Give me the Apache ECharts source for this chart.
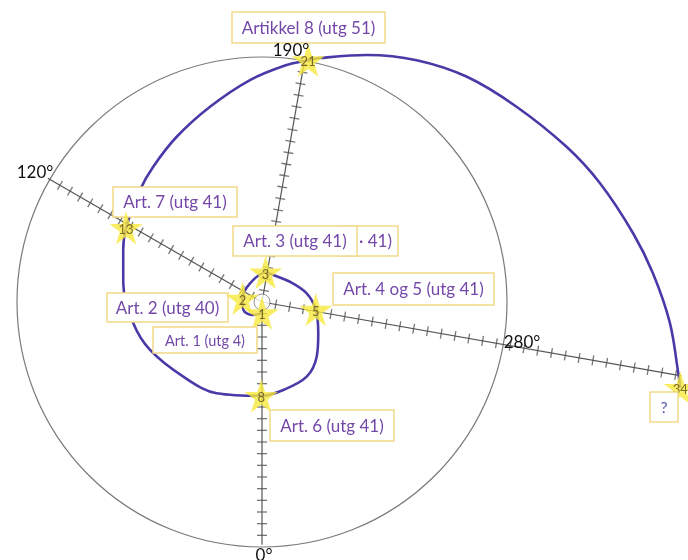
<!DOCTYPE html>
<html>
<head>
<meta charset="utf-8">
<script src="https://cdn.jsdelivr.net/npm/echarts@6/dist/echarts.min.js"></script>
<style>html,body{margin:0;padding:0;background:#fff;}#c{width:688px;height:560px;}</style>
</head>
<body>
<div id="c"></div>
<script>
// Fibonacci stars (labels) and their positions (radius units, angle in degrees clockwise from bottom)
const starLabels = ['1', '2', '3', '5', '8', '13', '21', '34'];
const starRadius = [0.95, 1.7, 2.55, 4.65, 8.05, 13.27, 21.1, 36.6];
const starAngle  = [0, 100, 187, 278, 0.5, 118.6, 190.8, 281.6];

// Hand-drawn spiral
const spiralRadius = [0.97, 1.34, 1.74, 1.7, 1.9, 2.55, 2.51, 2.96, 3.9, 4.65, 5.52, 6.63, 7.46, 7.76, 8.05,
  8.74, 9.3, 10.44, 11.18, 12.0, 12.7, 13.27, 14.2, 14.88, 15.94, 17.32, 19.05, 20.42, 21.1,
  21.5, 23.0, 24.6, 26.1, 27.5, 29.3, 30.7, 32.35, 33.6, 35.0, 36.2, 36.6];
const spiralAngle = [1.5, 33.8, 66.8, 100, 147.3, 187, 202.7, 234.1, 259, 278, 299.1, 315, 329.1, 346.4, 360.5,
  386.4, 406.5, 426.8, 440.6, 457.7, 470.5, 478.6, 492.6, 501.2, 512.7, 525.1, 536.9, 545.9, 550.8,
  553.4, 563.0, 572.6, 582.3, 592.5, 603.0, 610.6, 619.5, 625.8, 632.9, 639.7, 641.6];

// Radial axes
const axisAngles = [0, 120, 190, 280];
const axisLabels = ['0°', '120°', '190°', '280°'];
const axisLength = [20.8, 21.2, 20.9, 36.5];
const axisTickStep = [1, 1, 1, 1.2];
const circleRadius = 21;
const outerRadius = 37;

// Annotation texts
const notes = ['Artikkel 8 (utg 51)', 'Art. 7 (utg 41)', '· 41)', 'Art. 3 (utg 41)', 'Art. 4 og 5 (utg 41)',
  'Art. 2 (utg 40)', 'Art. 1 (utg 4)', 'Art. 6 (utg 41)', '?'];

// ---- layout / style (not data) ----
const noteBoxes = [
  [232, 12, 153, 31, 17],
  [113, 187, 124, 30, 17],
  [340, 226, 58, 30, 17],
  [233, 226, 124, 30, 17],
  [333, 273, 161, 32, 17],
  [107, 293, 121, 29, 17],
  [153, 327, 104, 26, 14.5],
  [270, 410, 124, 31, 17],
  [650, 392, 28, 30, 16]
];
const noteAlign = ['center', 'center', 'right', 'center', 'center', 'center', 'center', 'center', 'center'];
const axisLabelPos = [[264, 556], [35, 173], [291, 51], [522, 343]];
const CENTER = [262, 302];
const PX_PER_UNIT = 245 / 21;

const STAR = 'path://M50,0 L61.2,34.5 L97.6,34.5 L68.2,55.9 L79.4,90.5 L50,69.1 L20.6,90.5 L31.8,55.9 L2.4,34.5 L38.8,34.5 Z';

const series = [];
axisAngles.forEach((a, i) => {
  series.push({
    type: 'line', coordinateSystem: 'polar', polarIndex: 1, silent: true,
    symbol: 'none', z: 2,
    lineStyle: { color: '#555', width: 1.2 },
    data: [[0, a], [axisLength[i], a]]
  });
  const ticks = [];
  for (let r = axisTickStep[i]; r < axisLength[i] - 0.3; r += axisTickStep[i]) {
    ticks.push({ value: [r, a], symbolRotate: -a });
  }
  series.push({
    type: 'scatter', coordinateSystem: 'polar', polarIndex: 1, silent: true,
    symbol: 'rect', symbolSize: [10, 1.3], z: 2,
    itemStyle: { color: '#555' },
    data: ticks
  });
});

series.push({
  type: 'scatter', coordinateSystem: 'polar', polarIndex: 1, silent: true,
  symbol: 'circle', symbolSize: 16, z: 3,
  itemStyle: { color: '#fff', borderColor: '#777', borderWidth: 1 },
  data: [[0, 0]]
});

series.push({
  type: 'line', coordinateSystem: 'polar', polarIndex: 1, silent: true,
  symbol: 'none', smooth: 0.35, z: 4,
  lineStyle: { color: '#4a3aa8', width: 2.6 },
  data: spiralRadius.map((r, i) => [r, spiralAngle[i]])
});

series.push({
  type: 'scatter', coordinateSystem: 'polar', polarIndex: 1, silent: true,
  symbol: STAR, symbolSize: 33, z: 20,
  itemStyle: { color: '#f6e83c' },
  label: {
    show: true, position: 'inside', formatter: p => p.name,
    color: '#5a4a20', fontSize: 13, fontFamily: 'Lato', offset: [0, 2]
  },
  data: starLabels.map((s, i) => ({ name: s, value: [starRadius[i], starAngle[i]] }))
});

const graphics = [];
notes.forEach((t, i) => {
  const [x, y, w, h, fs] = noteBoxes[i];
  graphics.push({
    type: 'rect', z: 10 + i * 2, silent: true,
    shape: { x: x, y: y, width: w, height: h },
    style: { fill: '#fff', stroke: '#f2d98a', lineWidth: 1.5 }
  });
  const al = noteAlign[i];
  graphics.push({
    type: 'text', z: 11 + i * 2, silent: true,
    x: al === 'right' ? x + w - 6 : x + w / 2, y: y + h / 2 + 1,
    style: {
      text: t, fill: t === '?' ? '#5a5aa8' : '#7348a8',
      font: fs + 'px Lato',
      textAlign: al, align: al, textVerticalAlign: 'middle', verticalAlign: 'middle'
    }
  });
});
axisLabels.forEach((t, i) => {
  graphics.push({
    type: 'text', z: 30, silent: true,
    x: axisLabelPos[i][0], y: axisLabelPos[i][1],
    style: {
      text: t, fill: '#111', font: '17px Lato',
      textAlign: 'center', align: 'center', textVerticalAlign: 'middle', verticalAlign: 'middle'
    }
  });
});

const hiddenAxis = { axisLine: { show: false }, axisTick: { show: false }, axisLabel: { show: false }, splitLine: { show: false } };

const chart = echarts.init(document.getElementById('c'));
chart.setOption({
  backgroundColor: '#fff',
  animation: false,
  polar: [
    { center: CENTER, radius: circleRadius * PX_PER_UNIT },
    { center: CENTER, radius: outerRadius * PX_PER_UNIT }
  ],
  radiusAxis: [
    Object.assign({ polarIndex: 0, type: 'value', min: 0, max: circleRadius }, hiddenAxis),
    Object.assign({ polarIndex: 1, type: 'value', min: 0, max: outerRadius }, hiddenAxis)
  ],
  angleAxis: [
    {
      polarIndex: 0, type: 'value', min: 0, max: 360, startAngle: 270, clockwise: true,
      axisLine: { show: true, lineStyle: { color: '#7a7a7a', width: 1.2 } },
      axisTick: { show: false }, axisLabel: { show: false }, splitLine: { show: false }
    },
    Object.assign({ polarIndex: 1, type: 'value', min: 0, max: 360, startAngle: 270, clockwise: true }, hiddenAxis)
  ],
  series: series,
  graphic: { elements: graphics }
});
</script>
</body>
</html>
